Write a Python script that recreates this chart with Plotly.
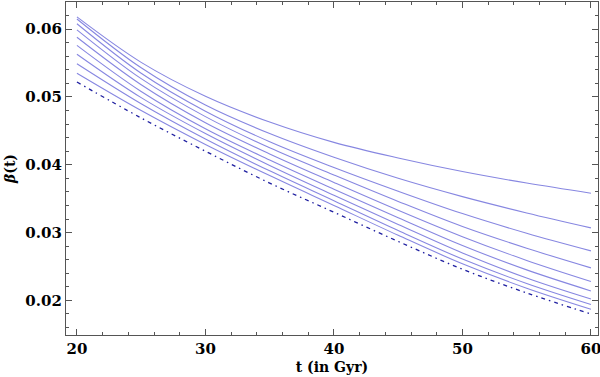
import plotly.graph_objects as go

# time axis (Gyr) and beta(t) curves
t = [20, 25, 30, 35, 40, 45, 50, 55, 60]

beta_1 = [0.0618, 0.0551, 0.0501, 0.0463, 0.0433, 0.0410, 0.0390, 0.0373, 0.0358]
beta_2 = [0.0615, 0.0543, 0.0488, 0.0446, 0.0411, 0.0380, 0.0353, 0.0329, 0.0307]
beta_3 = [0.0608, 0.0535, 0.0479, 0.0434, 0.0396, 0.0361, 0.0328, 0.0299, 0.0273]
beta_4 = [0.0599, 0.0527, 0.0471, 0.0425, 0.0385, 0.0346, 0.0309, 0.0277, 0.0248]
beta_5 = [0.0588, 0.0518, 0.0462, 0.0416, 0.0374, 0.0333, 0.0294, 0.0259, 0.0228]
beta_6 = [0.0576, 0.0508, 0.0453, 0.0407, 0.0364, 0.0322, 0.0281, 0.0245, 0.0214]
beta_7 = [0.0563, 0.0499, 0.0446, 0.0399, 0.0355, 0.0312, 0.0270, 0.0233, 0.0202]
beta_8 = [0.0549, 0.0490, 0.0438, 0.0391, 0.0347, 0.0303, 0.0261, 0.0225, 0.0194]
beta_9 = [0.0535, 0.0480, 0.0430, 0.0384, 0.0340, 0.0296, 0.0254, 0.0218, 0.0187]
beta_limit = [0.0522, 0.0469, 0.0420, 0.0373, 0.0330, 0.0287, 0.0246, 0.0211, 0.0180]

solid_curves = [beta_1, beta_2, beta_3, beta_4, beta_5, beta_6, beta_7, beta_8, beta_9]

x_ticks = [20, 30, 40, 50, 60]
y_ticks = [0.02, 0.03, 0.04, 0.05, 0.06]

font_family = "DejaVu Serif"
frame_color = "#555555"

fig = go.Figure()

for b in solid_curves:
    fig.add_trace(go.Scatter(x=t, y=b, mode="lines", line_shape="spline",
                             line=dict(color="rgb(135,135,225)", width=1.1),
                             showlegend=False, hoverinfo="skip"))

fig.add_trace(go.Scatter(x=t, y=beta_limit, mode="lines", line_shape="spline",
                         line=dict(color="rgb(30,30,160)", width=1.3, dash="4px,4px,1.5px,4px"),
                         showlegend=False, hoverinfo="skip"))

axis_common = dict(showgrid=False, zeroline=False, showline=True, linecolor=frame_color,
                   linewidth=1.2, mirror="allticks", ticks="inside", tickcolor=frame_color,
                   ticklen=6, tickwidth=1, automargin=False, ticklabeloverflow="allow",
                   tickfont=dict(family=font_family, size=15, color="black"))

fig.update_xaxes(range=[19.15, 60.55], tickvals=x_ticks,
                 ticktext=[f"<b>{v}</b>" for v in x_ticks],
                 minor=dict(dtick=2, tick0=20, ticks="inside", ticklen=3, tickcolor=frame_color),
                 title=dict(text="<b>t (in Gyr)</b>", font=dict(family=font_family, size=14, color="black"),
                            standoff=5),
                 **axis_common)
fig.update_yaxes(range=[0.0149, 0.0640], tickvals=y_ticks,
                 ticktext=[f"<b>{v:.2f}</b>" for v in y_ticks],
                 minor=dict(dtick=0.002, tick0=0.02, ticks="inside", ticklen=3, tickcolor=frame_color),
                 title=dict(text="<b><i>β</i>(t)</b>", font=dict(family=font_family, size=14, color="black"),
                            standoff=6),
                 **axis_common)

fig.update_layout(width=600, height=377, plot_bgcolor="white", paper_bgcolor="white",
                  margin=dict(l=66, r=2, t=2, b=42, autoexpand=False))

# drop the page's default body margin so the figure sits at the window origin
fig.write_html("out.html", config={"displayModeBar": False},
               post_script="document.body.style.margin='0';")
